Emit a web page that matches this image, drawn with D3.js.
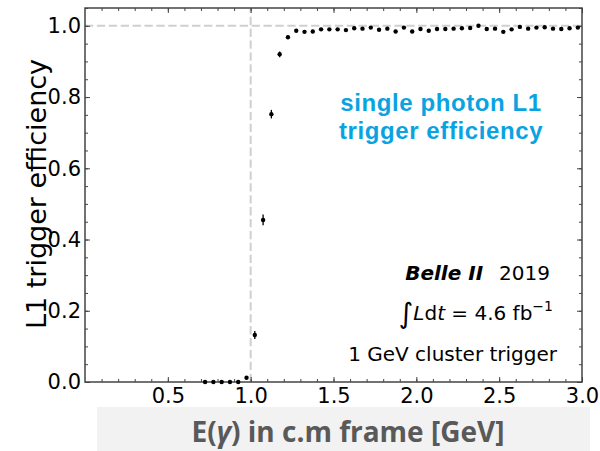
<!DOCTYPE html>
<html>
<head>
<meta charset="utf-8">
<script src="https://cdn.jsdelivr.net/npm/d3@7"></script>
<style>
  body { margin: 0; background: #fff; }
  text { font-family: "DejaVu Sans", sans-serif; }
</style>
</head>
<body>
<svg id="chart" width="600" height="451"></svg>
<script>
// bin centres [GeV] and measured L1 efficiency
var energy = [0.725, 0.775, 0.825, 0.875, 0.925, 0.975, 1.025, 1.075, 1.125, 1.175,
  1.225, 1.275, 1.325, 1.375, 1.425, 1.475, 1.525, 1.575, 1.625, 1.675,
  1.725, 1.775, 1.825, 1.875, 1.925, 1.975, 2.025, 2.075, 2.125, 2.175,
  2.225, 2.275, 2.325, 2.375, 2.425, 2.475, 2.525, 2.575, 2.625, 2.675,
  2.725, 2.775, 2.825, 2.875, 2.925, 2.975];
var efficiency = [0.000, 0.000, 0.000, 0.000, 0.000, 0.012, 0.132, 0.455, 0.752, 0.920,
  0.968, 0.986, 0.983, 0.984, 0.990, 0.990, 0.990, 0.988, 0.993, 0.992,
  0.995, 0.989, 0.992, 0.984, 0.995, 0.984, 0.991, 0.986, 0.991, 0.991,
  0.992, 0.993, 0.994, 1.000, 0.991, 0.992, 0.983, 0.990, 0.997, 0.992,
  0.995, 0.996, 0.992, 0.991, 0.993, 0.995];
var effError = [0.001, 0.001, 0.001, 0.001, 0.001, 0.003, 0.011, 0.015, 0.012, 0.008,
  0.005, 0.003, 0.003, 0.003, 0.003, 0.003, 0.003, 0.003, 0.003, 0.003,
  0.003, 0.003, 0.003, 0.003, 0.003, 0.003, 0.003, 0.003, 0.003, 0.003,
  0.003, 0.003, 0.003, 0.003, 0.003, 0.003, 0.003, 0.003, 0.003, 0.003,
  0.003, 0.003, 0.003, 0.003, 0.003, 0.003];

var xTicks = [0.5, 1.0, 1.5, 2.0, 2.5, 3.0];
var yTicks = [0.0, 0.2, 0.4, 0.6, 0.8, 1.0];
var threshold = 1.0;

var svg = d3.select('#chart');
var pl = 85, pr = 582, pt = 8, pb = 382;

var x = d3.scaleLinear().domain([0, 3]).range([pl, pr]);
var y = d3.scaleLinear().domain([0, 1.05]).range([pb, pt]);

// grey band behind the x title
svg.append('rect')
  .attr('x', 97).attr('y', 407)
  .attr('width', 493).attr('height', 44)
  .attr('fill', '#f2f2f2');

// reference lines at threshold and full efficiency
svg.append('line')
  .attr('x1', x(0)).attr('x2', x(3))
  .attr('y1', y(1)).attr('y2', y(1))
  .attr('stroke', '#cfcfcf').attr('stroke-width', 2)
  .attr('stroke-dasharray', '8.3,3.6');
svg.append('line')
  .attr('x1', x(threshold)).attr('x2', x(threshold))
  .attr('y1', y(0)).attr('y2', y(1.05))
  .attr('stroke', '#cfcfcf').attr('stroke-width', 2)
  .attr('stroke-dasharray', '8.3,3.6');

// axes, ticks pointing inwards on all four sides
var axisColor = '#444';
function styleAxis(g) {
  g.select('.domain').remove();
  g.selectAll('line').attr('stroke', axisColor).attr('stroke-width', 1);
  g.selectAll('text').attr('fill', '#000').style('font-size', '21px');
}
var xMinor = d3.range(1, 30).map(function(i) { return i / 10; });
var yMinor = d3.range(0, 22).map(function(i) { return i * 0.05; });

svg.append('g').attr('transform', 'translate(0,' + pb + ')')
  .call(d3.axisBottom(x).tickValues(xMinor).tickSize(-3).tickFormat(''))
  .call(styleAxis);
svg.append('g').attr('transform', 'translate(0,' + pb + ')')
  .call(d3.axisBottom(x).tickValues(xTicks).tickSize(-5).tickPadding(6)
    .tickFormat(d3.format('.1f')))
  .call(styleAxis);
svg.append('g').attr('transform', 'translate(0,' + pt + ')')
  .call(d3.axisTop(x).tickValues(xMinor).tickSize(-3).tickFormat(''))
  .call(styleAxis);
svg.append('g').attr('transform', 'translate(0,' + pt + ')')
  .call(d3.axisTop(x).tickValues(xTicks).tickSize(-5).tickFormat(''))
  .call(styleAxis);

svg.append('g').attr('transform', 'translate(' + pl + ',0)')
  .call(d3.axisLeft(y).tickValues(yMinor).tickSize(-3).tickFormat(''))
  .call(styleAxis);
svg.append('g').attr('transform', 'translate(' + pl + ',0)')
  .call(d3.axisLeft(y).tickValues(yTicks).tickSize(-5).tickPadding(4)
    .tickFormat(d3.format('.1f')))
  .call(styleAxis);
svg.append('g').attr('transform', 'translate(' + pr + ',0)')
  .call(d3.axisRight(y).tickValues(yMinor).tickSize(-3).tickFormat(''))
  .call(styleAxis);
svg.append('g').attr('transform', 'translate(' + pr + ',0)')
  .call(d3.axisRight(y).tickValues(yTicks).tickSize(-5).tickFormat(''))
  .call(styleAxis);

svg.append('rect')
  .attr('x', pl).attr('y', pt)
  .attr('width', pr - pl).attr('height', pb - pt)
  .attr('fill', 'none').attr('stroke', axisColor).attr('stroke-width', 1.5);

// efficiency points with error bars
var pts = svg.append('g').selectAll('g').data(energy).enter().append('g');
pts.append('line')
  .attr('x1', function(d) { return x(d); })
  .attr('x2', function(d) { return x(d); })
  .attr('y1', function(d, i) { return y(efficiency[i] - effError[i]); })
  .attr('y2', function(d, i) { return y(efficiency[i] + effError[i]); })
  .attr('stroke', '#000').attr('stroke-width', 1.3);
pts.append('circle')
  .attr('cx', function(d) { return x(d); })
  .attr('cy', function(d, i) { return y(efficiency[i]); })
  .attr('r', 2.2)
  .attr('fill', '#000');

// axis titles
svg.append('text')
  .attr('transform', 'translate(46,194) rotate(-90)')
  .attr('text-anchor', 'middle')
  .style('font-size', '27px')
  .text('L1 trigger efficiency');

svg.append('text')
  .attr('x', 348).attr('y', 442)
  .attr('text-anchor', 'middle')
  .style('font-family', '"Open Sans", sans-serif')
  .style('font-weight', 'bold')
  .style('font-size', '28px')
  .attr('fill', '#595959')
  .html('E(<tspan font-style="italic">γ</tspan>) in c.m frame [GeV]');

// blue caption, two lines
var captionLines = ['single photon L1', 'trigger efficiency'];
svg.append('g').selectAll('text').data(captionLines).enter().append('text')
  .attr('x', 441)
  .attr('y', function(d, i) { return 111 + i * 28; })
  .attr('text-anchor', 'middle')
  .style('font-family', '"Liberation Sans", sans-serif')
  .style('font-weight', 'bold')
  .style('font-size', '24px')
  .style('letter-spacing', '0.6px')
  .attr('fill', '#0aa3e2')
  .text(function(d) { return d; });

// experiment labels
var lab = svg.append('g').style('font-size', '20px');
lab.append('text')
  .attr('x', 550).attr('y', 280)
  .attr('text-anchor', 'end')
  .html('<tspan font-weight="bold" font-style="italic">Belle II</tspan><tspan dx="16">2019</tspan>');
lab.append('text')
  .attr('x', 553).attr('y', 320)
  .attr('text-anchor', 'end')
  .html('<tspan font-size="28px" dy="3">∫</tspan><tspan font-style="italic" dy="-3">L</tspan>d<tspan font-style="italic">t</tspan> = 4.6 fb<tspan font-size="14px" dy="-9">−1</tspan>');
lab.append('text')
  .attr('x', 557).attr('y', 361)
  .attr('text-anchor', 'end')
  .text('1 GeV cluster trigger');
</script>
</body>
</html>
